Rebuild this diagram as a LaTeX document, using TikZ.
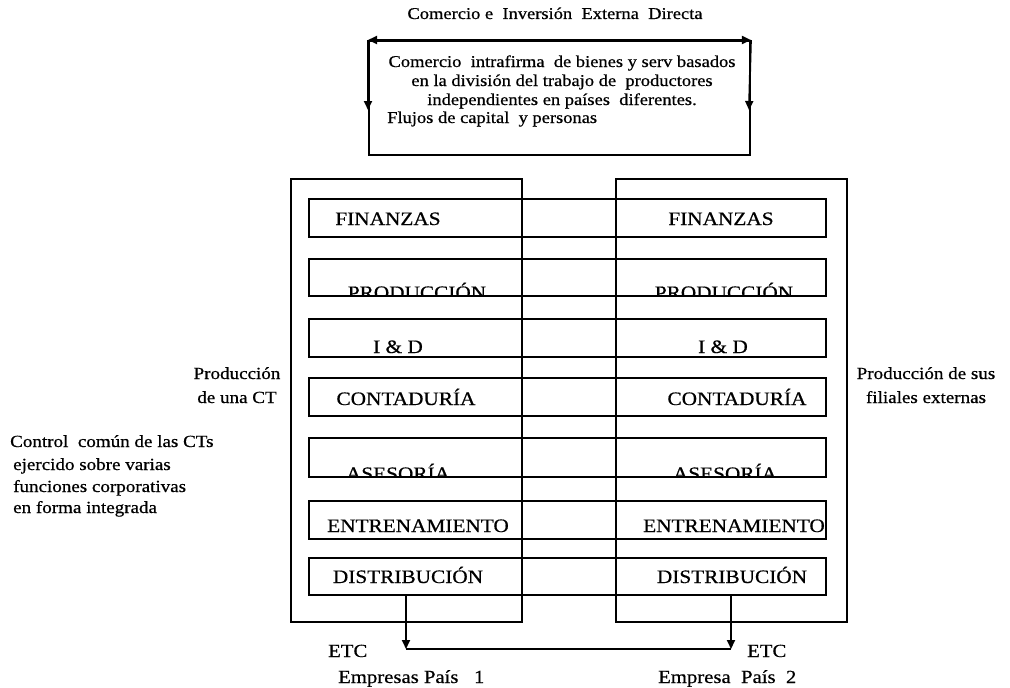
\documentclass[tikz,border=0pt]{standalone}
\usepackage{fontspec}
\setmainfont{Liberation Serif}[FakeStretch=1.12,FakeBold=0.6]
\usetikzlibrary{arrows.meta}
\begin{document}
\begin{tikzpicture}[x=1pt,y=-1pt,
  ln/.style={line width=1.9pt},
  arr/.style={-{Triangle[width=8pt,length=9pt]}},
  darr/.style={{Triangle[width=8pt,length=9pt]}-{Triangle[width=8pt,length=9pt]}},
  rowbox/.style={draw,line width=1.9pt,minimum width=517pt,inner sep=0pt,anchor=north west},
  bigbox/.style={draw,line width=2.1pt,minimum width=231pt,minimum height=443pt,anchor=north west,inner sep=0pt},
  lbl/.style={font=\fontsize{19}{22}\selectfont,inner sep=0pt,anchor=base},
  small/.style={font=\fontsize{16.5}{18.7}\selectfont,inner sep=0pt,anchor=base},
  side/.style={font=\fontsize{17}{22.5}\selectfont,inner sep=0pt,anchor=base},
  bot/.style={font=\fontsize{18.5}{22.5}\selectfont,inner sep=0pt,anchor=base west},
]
\useasboundingbox (0,0) rectangle (1010,688);
\fill[white] (0,0) rectangle (1010,688);

% title
\node[small] (title) at (555,19) {Comercio e\ \ Inversión\ \ Externa\ \ Directa};

% top box
\node[draw,line width=1.9pt,minimum width=381pt,minimum height=114pt,anchor=north west,inner sep=0pt] (topbox) at (368,40) {};
\coordinate (ta1) at (368,110);
\coordinate (ta2) at (749,110);
\draw[ln,darr] (topbox.north west) -- (topbox.north east);
\draw[ln,arr] (topbox.north west) -- (ta1);
\draw[ln,arr] (topbox.north east) -- (ta2);
\node[small] (t1) at (562,67) {Comercio\ \ intrafirma\ \ de bienes y serv basados};
\node[small] (t2) at (562,86) {en la división del trabajo de\ \ productores};
\node[small] (t3) at (562,105) {independientes en países\ \ diferentes.};
\node[small,anchor=base west] (t4) at (387,123) {Flujos de capital\ \ y personas};

% big boxes
\node[bigbox] (bigL) at (290,178) {};
\node[bigbox] (bigR) at (615,178) {};

% rows
\node[rowbox,minimum height=38pt] (r1) at (308,198) {};
\node[rowbox,minimum height=37pt] (r2) at (308,258) {};
\node[rowbox,minimum height=38pt] (r3) at (308,318) {};
\node[rowbox,minimum height=38pt] (r4) at (308,377) {};
\node[rowbox,minimum height=39pt] (r5) at (308,437) {};
\node[rowbox,minimum height=38pt] (r6) at (308,500) {};
\node[rowbox,minimum height=37pt] (r7) at (308,557) {};

% row labels
\node[lbl] (f1) at (388,225) {FINANZAS};
\node[lbl] (f2) at (721,225) {FINANZAS};
\begin{scope}
\clip (300,250) rectangle (840,295);
\node[lbl] (p1) at (417,299) {PRODUCCIÓN};
\node[lbl] (p2) at (724,299) {PRODUCCIÓN};
\end{scope}
\node[lbl] (i1) at (398,353) {I \& D};
\node[lbl] (i2) at (723,353) {I \& D};
\node[lbl] (c1) at (406,405) {CONTADURÍA};
\node[lbl] (c2) at (737,405) {CONTADURÍA};
\begin{scope}
\clip (300,430) rectangle (840,476);
\node[lbl] (a1) at (398,480) {ASESORÍA};
\node[lbl] (a2) at (725,480) {ASESORÍA};
\end{scope}
\node[lbl] (e1) at (418,532) {ENTRENAMIENTO};
\node[lbl] (e2) at (734,532) {ENTRENAMIENTO};
\node[lbl] (d1) at (408,583) {DISTRIBUCIÓN};
\node[lbl] (d2) at (732,583) {DISTRIBUCIÓN};

% side labels
\node[side] (sl1) at (237,379) {Producción};
\node[side] (sl2) at (237,403) {de una CT};
\node[side] (sr1) at (926,379) {Producción de sus};
\node[side] (sr2) at (926,403) {filiales externas};
\node[side,anchor=base west] (cc1) at (10,447) {Control\ \ común de las CTs};
\node[side,anchor=base west] (cc2) at (13,470) {ejercido sobre varias};
\node[side,anchor=base west] (cc3) at (13,492) {funciones corporativas};
\node[side,anchor=base west] (cc4) at (13,513) {en forma integrada};

% bottom connectors
\coordinate (b1) at (406,649);
\coordinate (b2) at (731,649);
\draw[ln,arr] (r7.south -| b1) -- (b1);
\draw[ln,arr] (r7.south -| b2) -- (b2);
\draw[ln] (b1) -- (b2);
\node[bot] (etc1) at (328,657) {ETC};
\node[bot] (emp1) at (338,683) {Empresas País\ \ \ 1};
\node[bot] (etc2) at (747,657) {ETC};
\node[bot] (emp2) at (658,683) {Empresa\ \ País\ \ 2};
\end{tikzpicture}
\end{document}
